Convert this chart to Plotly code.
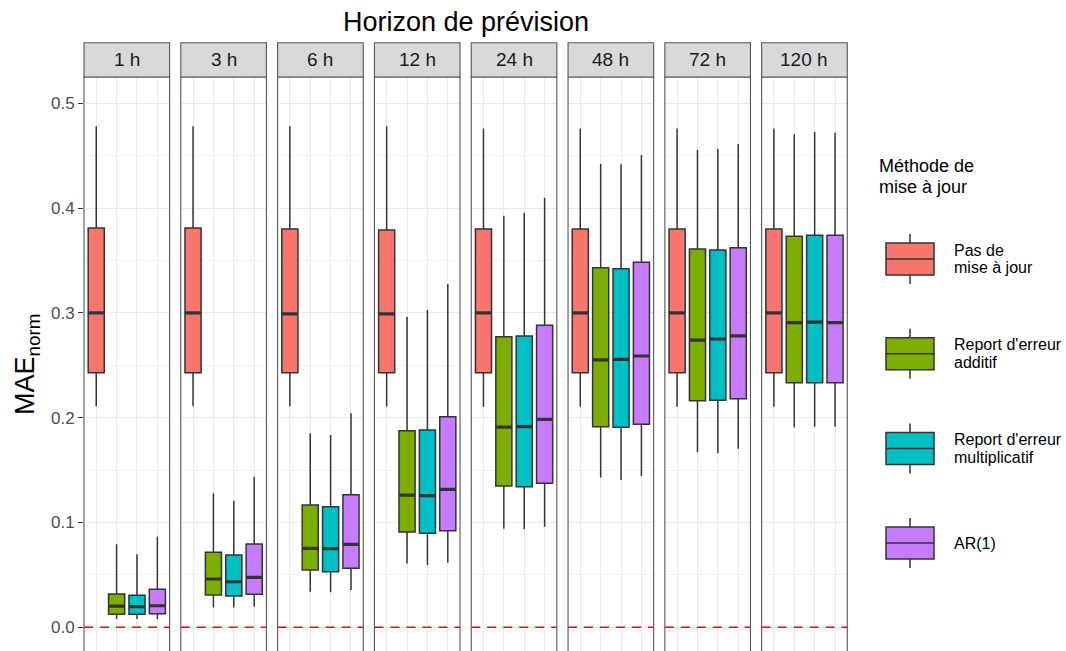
import plotly.graph_objects as go

# ---- data -------------------------------------------------------------
horizons = ["1 h", "3 h", "6 h", "12 h", "24 h", "48 h", "72 h", "120 h"]
methods = ["Pas de mise à jour", "Report d'erreur additif",
           "Report d'erreur multiplicatif", "AR(1)"]
legend_lines = [["Pas de", "mise à jour"], ["Report d'erreur", "additif"],
                ["Report d'erreur", "multiplicatif"], ["AR(1)"]]
colors = ["#F8766D", "#7CAE00", "#00BFC4", "#C77CFF"]

# Pas de mise à jour
pas_lower = [0.211, 0.211, 0.211, 0.2105, 0.2105, 0.2105, 0.2105, 0.2105]
pas_q1 = [0.243, 0.243, 0.243, 0.243, 0.243, 0.243, 0.243, 0.243]
pas_med = [0.300, 0.300, 0.299, 0.299, 0.300, 0.300, 0.300, 0.300]
pas_q3 = [0.381, 0.381, 0.380, 0.379, 0.380, 0.380, 0.380, 0.380]
pas_upper = [0.478, 0.478, 0.478, 0.478, 0.476, 0.476, 0.476, 0.476]

# Report d'erreur additif
add_lower = [0.008, 0.019, 0.034, 0.061, 0.094, 0.143, 0.167, 0.191]
add_q1 = [0.0124, 0.0308, 0.0547, 0.0909, 0.1348, 0.1914, 0.2162, 0.2334]
add_med = [0.0203, 0.0461, 0.0754, 0.1262, 0.1911, 0.2551, 0.2741, 0.2907]
add_q3 = [0.0318, 0.0716, 0.1167, 0.1876, 0.2773, 0.3431, 0.361, 0.3731]
add_upper = [0.0792, 0.1279, 0.1851, 0.2964, 0.3928, 0.4421, 0.4554, 0.4707]

# Report d'erreur multiplicatif
mul_lower = [0.008, 0.019, 0.0334, 0.0594, 0.0935, 0.1406, 0.166, 0.1914]
mul_q1 = [0.0124, 0.0299, 0.0531, 0.0897, 0.1342, 0.1908, 0.2166, 0.2334]
mul_med = [0.0197, 0.0435, 0.075, 0.1256, 0.1914, 0.2557, 0.2751, 0.2913]
mul_q3 = [0.0305, 0.069, 0.1151, 0.1883, 0.278, 0.3422, 0.36, 0.374]
mul_upper = [0.0697, 0.1208, 0.1835, 0.3028, 0.3956, 0.4418, 0.4564, 0.4726]

# AR(1)
ar_lower = [0.008, 0.0197, 0.0356, 0.0616, 0.096, 0.1444, 0.1704, 0.1914]
ar_q1 = [0.013, 0.0315, 0.0563, 0.0922, 0.1374, 0.1937, 0.2181, 0.2334]
ar_med = [0.0206, 0.0477, 0.0792, 0.1317, 0.1985, 0.2589, 0.278, 0.2907]
ar_q3 = [0.0363, 0.0795, 0.1265, 0.201, 0.2882, 0.3483, 0.3622, 0.374]
ar_upper = [0.0865, 0.1437, 0.2042, 0.3276, 0.4099, 0.4507, 0.4612, 0.472]

y_ticks = [0.0, 0.1, 0.2, 0.3, 0.4, 0.5]
y_tick_labels = ["0.0", "0.1", "0.2", "0.3", "0.4", "0.5"]

stats = [
    (pas_lower, pas_q1, pas_med, pas_q3, pas_upper),
    (add_lower, add_q1, add_med, add_q3, add_upper),
    (mul_lower, mul_q1, mul_med, mul_q3, mul_upper),
    (ar_lower, ar_q1, ar_med, ar_q3, ar_upper),
]

# ---- layout geometry (pixels) -----------------------------------------
W, H = 1066, 651
FONT = "Liberation Sans, Arial, sans-serif"
OUTLINE = "#333333"
BORDER = "#555555"
panel_left0 = 84.0
panel_step = 96.81
panel_w = 85.6
panel_top = 77.0
strip_top = 42.7
box_width = 0.79


def px_x(p):
    return p / W


def px_y(p):
    return 1 - p / H


fig = go.Figure()
layout_axes = {}
shapes = []
annotations = []

for h, hname in enumerate(horizons):
    ax = "" if h == 0 else str(h + 1)
    xref, yref = "x" + ax, "y" + ax
    left = panel_left0 + h * panel_step
    layout_axes["xaxis" + ax] = dict(
        domain=[px_x(left), px_x(left + panel_w)],
        range=[0.4, 4.6], tickvals=[1, 2, 3, 4], showticklabels=False,
        ticks="", showgrid=True, gridcolor="#EBEBEB", gridwidth=1.1,
        zeroline=False, showline=False, fixedrange=True, anchor=yref,
    )
    layout_axes["yaxis" + ax] = dict(
        domain=[0, px_y(panel_top)], range=[-0.0226, 0.5251],
        tickvals=y_ticks, ticktext=y_tick_labels,
        showticklabels=(h == 0), ticks="outside" if h == 0 else "",
        ticklen=5, tickwidth=1.1, tickcolor=OUTLINE,
        tickfont=dict(family=FONT, size=17, color="#4D4D4D"),
        showgrid=True, gridcolor="#EBEBEB", gridwidth=1.1,
        minor=dict(dtick=0.05, tick0=0, showgrid=True,
                   gridcolor="#F3F3F3", gridwidth=0.6),
        zeroline=False, showline=False, fixedrange=True, anchor=xref,
        matches=None if h == 0 else "y",
    )

    # dashed reference line at zero
    shapes.append(dict(type="line", xref=xref + " domain", x0=0, x1=1,
                       yref=yref, y0=0, y1=0, layer="above",
                       line=dict(color="#FF0000", width=1.6, dash="9px,7px")))

    for m in range(len(methods)):
        lo, q1, md, q3, up = stats[m]
        fig.add_trace(go.Box(
            x=[m + 1], q1=[q1[h]], median=[md[h]], q3=[q3[h]],
            lowerfence=[lo[h]], upperfence=[up[h]],
            width=box_width, whiskerwidth=0, boxpoints=False,
            fillcolor=colors[m], line=dict(color=OUTLINE, width=1.5),
            name=methods[m], showlegend=False, hoverinfo="skip",
            xaxis=xref, yaxis=yref,
        ))
        # heavier median bar
        fig.add_trace(go.Scatter(
            x=[m + 1 - box_width / 2, m + 1 + box_width / 2],
            y=[md[h], md[h]], mode="lines",
            line=dict(color=OUTLINE, width=3.2),
            showlegend=False, hoverinfo="skip", xaxis=xref, yaxis=yref,
        ))

    # panel border
    shapes.append(dict(type="rect", xref=xref + " domain", x0=0, x1=1,
                       yref=yref + " domain", y0=-0.02, y1=1,
                       line=dict(color=BORDER, width=1.1),
                       fillcolor="rgba(0,0,0,0)", layer="above"))
    # facet strip
    shapes.append(dict(type="rect", xref=xref + " domain", x0=0, x1=1,
                       yref="paper", y0=px_y(panel_top), y1=px_y(strip_top),
                       line=dict(color=BORDER, width=1.1),
                       fillcolor="#D9D9D9"))
    annotations.append(dict(
        text=hname, xref=xref + " domain", x=0.5, yref="paper",
        y=px_y((panel_top + strip_top) / 2), showarrow=False,
        xanchor="center", yanchor="middle",
        font=dict(family=FONT, size=19, color="#1A1A1A"),
    ))

# title and y-axis label
annotations.append(dict(
    text="Horizon de prévision", xref="paper", yref="paper",
    x=px_x(465.5), y=px_y(22), showarrow=False, xanchor="center",
    yanchor="middle", font=dict(family=FONT, size=27, color="#000000"),
))
annotations.append(dict(
    text="MAE<sub>norm</sub>", xref="paper", yref="paper",
    x=px_x(27), y=px_y(364), textangle=-90, showarrow=False,
    xanchor="center", yanchor="middle",
    font=dict(family=FONT, size=27, color="#000000"),
))

# legend drawn as boxplot keys
for i, line in enumerate(["Méthode de", "mise à jour"]):
    annotations.append(dict(
        text=line, xref="paper", yref="paper",
        x=px_x(877), y=px_y(166 + i * 21), showarrow=False, xanchor="left",
        yanchor="middle", align="left",
        font=dict(family=FONT, size=18, color="#000000"),
    ))
key_x0, key_x1, key_xc = 886, 934, 910
for k, lines in enumerate(legend_lines):
    cy = 259 + k * 94.7
    shapes.append(dict(type="line", xref="paper", yref="paper",
                       x0=px_x(key_xc), x1=px_x(key_xc),
                       y0=px_y(cy - 25), y1=px_y(cy + 25),
                       line=dict(color=OUTLINE, width=1.5)))
    shapes.append(dict(type="rect", xref="paper", yref="paper",
                       x0=px_x(key_x0), x1=px_x(key_x1),
                       y0=px_y(cy - 16), y1=px_y(cy + 16),
                       fillcolor=colors[k], line=dict(color=OUTLINE, width=1.5)))
    shapes.append(dict(type="line", xref="paper", yref="paper",
                       x0=px_x(key_x0), x1=px_x(key_x1),
                       y0=px_y(cy), y1=px_y(cy),
                       line=dict(color=OUTLINE, width=1.5)))
    n = len(lines)
    for j, txt in enumerate(lines):
        ly = cy + (j - (n - 1) / 2) * 18
        annotations.append(dict(
            text=txt, xref="paper", yref="paper", x=px_x(952), y=px_y(ly),
            showarrow=False, xanchor="left", yanchor="middle", align="left",
            font=dict(family=FONT, size=16, color="#000000"),
        ))

fig.update_layout(
    width=W, height=H, margin=dict(l=0, r=0, t=0, b=0),
    paper_bgcolor="white", plot_bgcolor="white",
    showlegend=False, shapes=shapes, annotations=annotations,
    font=dict(family=FONT),
    **layout_axes,
)

fig.write_html("out.html", config={"displayModeBar": False})
